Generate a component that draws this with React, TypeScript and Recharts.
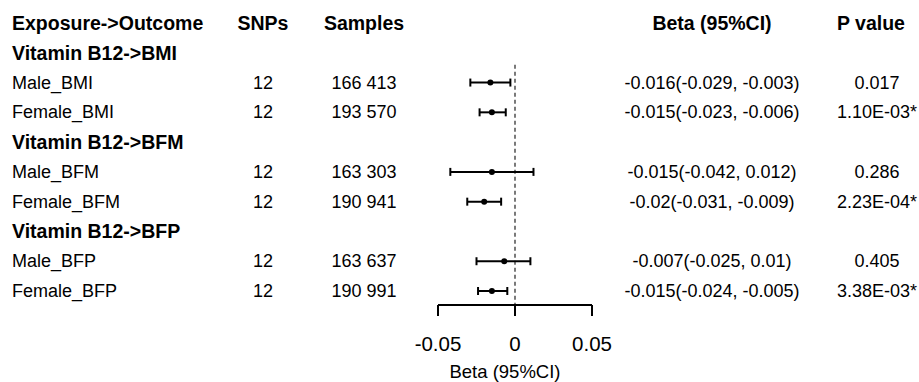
import React from 'react';
import { ScatterChart, Scatter, XAxis, YAxis, ErrorBar, ReferenceLine, Label } from 'recharts';

const headers = ['Exposure->Outcome', 'SNPs', 'Samples', 'Beta (95%CI)', 'P value'];
const groups = ['Vitamin B12->BMI', 'Vitamin B12->BFM', 'Vitamin B12->BFP'];
const outcomes = ['Male_BMI', 'Female_BMI', 'Male_BFM', 'Female_BFM', 'Male_BFP', 'Female_BFP'];
const snps = [12, 12, 12, 12, 12, 12];
const samples = ['166 413', '193 570', '163 303', '190 941', '163 637', '190 991'];
const beta = [-0.016, -0.015, -0.015, -0.02, -0.007, -0.015];
const lower = [-0.029, -0.023, -0.042, -0.031, -0.025, -0.024];
const upper = [-0.003, -0.006, 0.012, -0.009, 0.01, -0.005];
const betaText = [
  '-0.016(-0.029, -0.003)',
  '-0.015(-0.023, -0.006)',
  '-0.015(-0.042, 0.012)',
  '-0.02(-0.031, -0.009)',
  '-0.007(-0.025, 0.01)',
  '-0.015(-0.024, -0.005)',
];
const pValues = ['0.017', '1.10E-03*', '0.286', '2.23E-04*', '0.405', '3.38E-03*'];
const xTicks = [-0.05, 0, 0.05];
const xLabel = 'Beta (95%CI)';

const FONT = '"Liberation Sans", Arial, sans-serif';

// row 0 = column headers, each group gets a title row followed by its 2 outcomes
const groupRow = (g: number) => 1 + g * 3;
const outcomeRow = (i: number) => 2 + i + Math.floor(i / 2);

const points = outcomes.map((name, i) => ({
  name,
  x: beta[i],
  y: outcomeRow(i),
  err: [beta[i] - lower[i], upper[i] - beta[i]],
}));

const rowTicks = Array.from({ length: 10 }, (_, i) => i);

const cols = { label: 12, snps: 263, samples: 364, beta: 712, p: 877 };

const RowTick = (props: any) => {
  const { y, payload } = props;
  const r = payload.value;
  const plain = { fontFamily: FONT, fontSize: 18, fill: '#000', dominantBaseline: 'central' as const };
  const bold = { ...plain, fontSize: 19.5, fontWeight: 700 };
  if (r === 0) {
    return (
      <g>
        <text x={cols.label} y={y} {...bold}>{headers[0]}</text>
        <text x={cols.snps} y={y} textAnchor="middle" {...bold}>{headers[1]}</text>
        <text x={cols.samples} y={y} textAnchor="middle" {...bold}>{headers[2]}</text>
        <text x={cols.beta} y={y} textAnchor="middle" {...bold}>{headers[3]}</text>
        <text x={cols.p - 6} y={y} textAnchor="middle" {...bold}>{headers[4]}</text>
      </g>
    );
  }
  const g = groups.findIndex((_, k) => groupRow(k) === r);
  if (g >= 0) {
    return <text x={cols.label} y={y} {...bold}>{groups[g]}</text>;
  }
  const i = outcomes.findIndex((_, k) => outcomeRow(k) === r);
  if (i < 0) return null;
  return (
    <g>
      <text x={cols.label} y={y} {...plain}>{outcomes[i]}</text>
      <text x={cols.snps} y={y} textAnchor="middle" {...plain}>{snps[i]}</text>
      <text x={cols.samples} y={y} textAnchor="middle" {...plain}>{samples[i]}</text>
      <text x={cols.beta} y={y} textAnchor="middle" {...plain}>{betaText[i]}</text>
      <text x={cols.p} y={y} textAnchor="middle" {...plain}>{pValues[i]}</text>
    </g>
  );
};

const AxisTitle = (props: any) => {
  const vb = props.viewBox || {};
  return (
    <text
      x={vb.x + vb.width / 2 - 10}
      y={vb.y + vb.height - 11}
      textAnchor="middle"
      dominantBaseline="central"
      fontFamily={FONT}
      fontSize={18.5}
      fill="#000"
    >
      {xLabel}
    </text>
  );
};

const Dot = (props: any) => <circle cx={props.cx} cy={props.cy} r={3} fill="#000" />;

export default function App() {
  return (
    <div style={{ position: 'absolute', left: 0, top: 0, width: 919, height: 382, background: '#fff' }}>
      <ScatterChart width={919} height={382} margin={{ top: 23, right: 327, bottom: 0, left: 0 }}>
        <XAxis
          type="number"
          dataKey="x"
          domain={[-0.05, 0.05]}
          ticks={xTicks}
          tickFormatter={(v: number) => String(v)}
          allowDataOverflow
          height={77}
          axisLine={{ stroke: '#000', strokeWidth: 2 }}
          tickLine={{ stroke: '#000', strokeWidth: 2 }}
          tickSize={11}
          tickMargin={20}
          tick={{ fontFamily: FONT, fontSize: 20.5, fill: '#000' }}
        >
          <Label content={<AxisTitle />} />
        </XAxis>
        <YAxis
          type="number"
          dataKey="y"
          reversed
          domain={[0, 9.47]}
          ticks={rowTicks}
          interval={0}
          allowDataOverflow
          width={438}
          axisLine={false}
          tickLine={false}
          tick={<RowTick />}
        />
        <ReferenceLine
          segment={[{ x: 0, y: 1.4 }, { x: 0, y: 9.47 }]}
          stroke="#222"
          strokeWidth={1.2}
          strokeDasharray="4 3"
        />
        <Scatter data={points} shape={<Dot />} isAnimationActive={false}>
          <ErrorBar dataKey="err" direction="x" width={4} strokeWidth={2} stroke="#000" />
        </Scatter>
      </ScatterChart>
    </div>
  );
}
